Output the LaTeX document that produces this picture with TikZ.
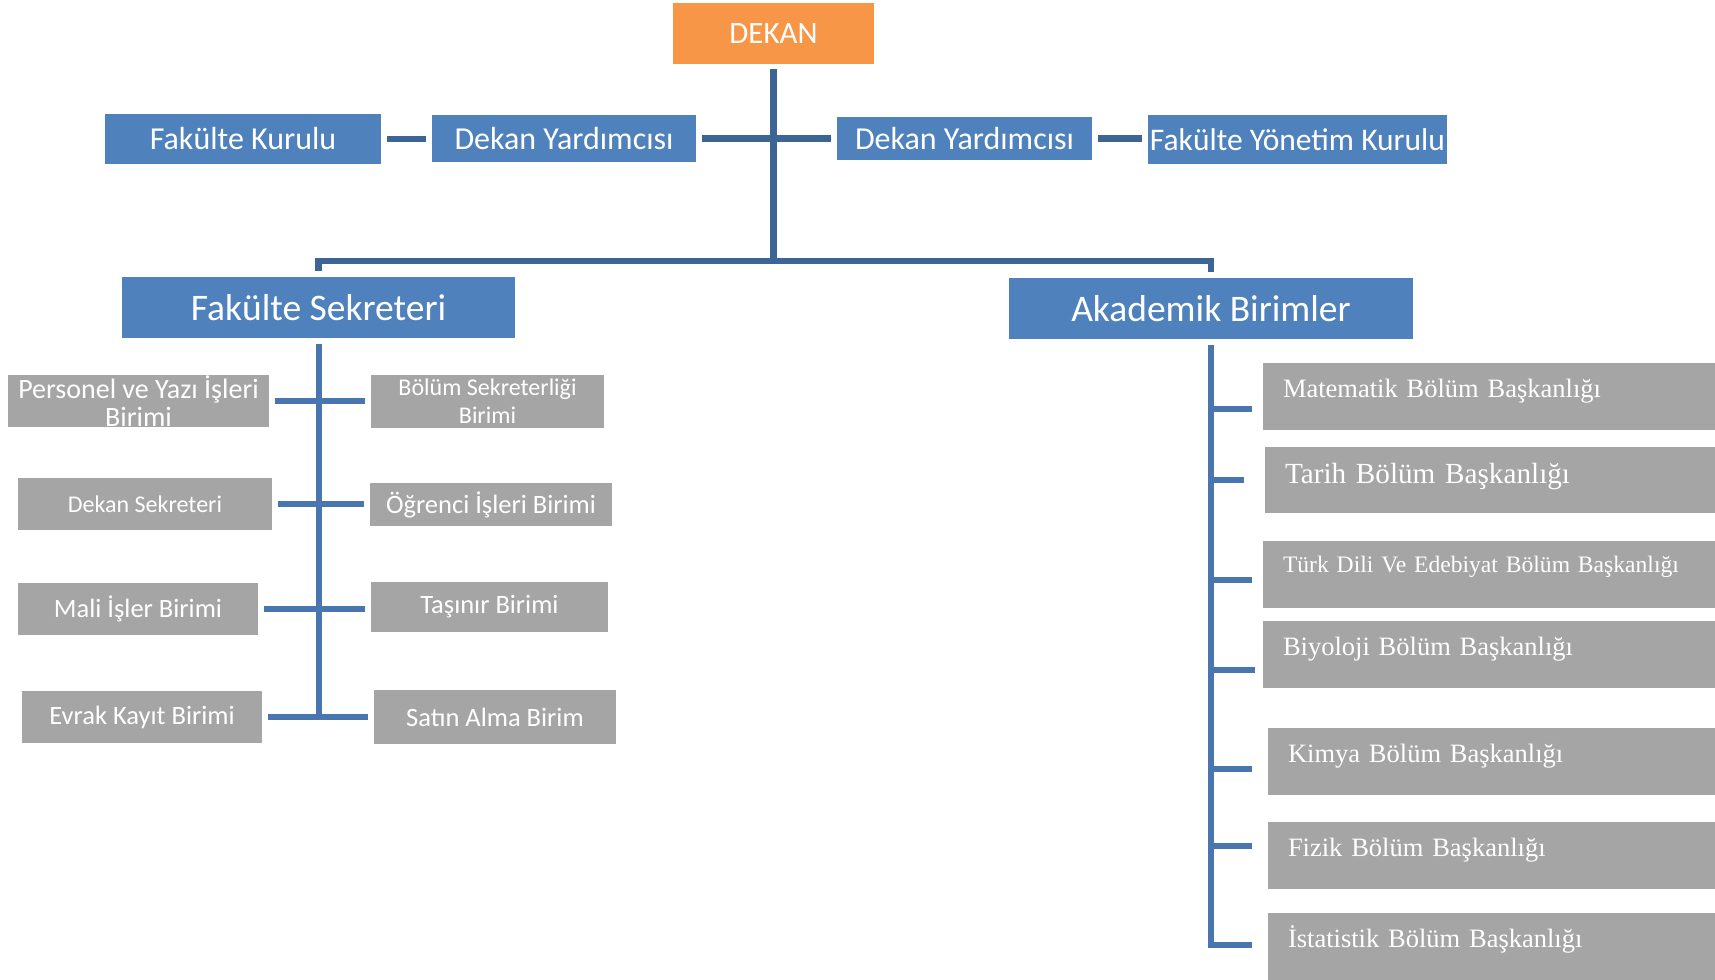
\documentclass[tikz,border=0pt]{standalone}
\usepackage{fontspec}
\usepackage{tikz}
\usetikzlibrary{positioning}

\newfontfamily\calibrifont{Carlito}
\newfontfamily\timesfont{Liberation Serif}

\definecolor{deanorange}{RGB}{247,150,70}
\definecolor{boxblue}{RGB}{79,129,189}
\definecolor{boxgray}{RGB}{165,165,165}
\definecolor{linedark}{RGB}{60,101,150}
\definecolor{linemid}{RGB}{74,118,175}

\begin{document}
\begin{tikzpicture}[x=0.5pt,y=-0.5pt]
  \tikzset{HeadStyle/.style = {
    shape         = rectangle,
    fill          = deanorange,
    text          = white,
    inner sep     = 0pt,
    outer sep     = 2.5pt,
    font          = \calibrifont\fontsize{15.5}{18}\selectfont
    }
  }
  \tikzset{BlueBoxStyle/.style = {
    shape         = rectangle,
    fill          = boxblue,
    text          = white,
    inner sep     = 0pt,
    outer sep     = 3pt,
    font          = \calibrifont\fontsize{16}{19}\selectfont
    }
  }
  \tikzset{GrayBoxStyle/.style = {
    shape         = rectangle,
    fill          = boxgray,
    text          = white,
    inner sep     = 0pt,
    outer sep     = 3pt,
    align         = center,
    font          = \calibrifont\fontsize{13.25}{14}\selectfont
    }
  }
  \tikzset{DeptBoxStyle/.style = {
    shape         = rectangle,
    anchor        = north west,
    fill          = boxgray,
    text          = white,
    inner xsep    = 10pt,
    inner ysep    = 0pt,
    outer sep     = 0pt,
    align         = left,
    text height   = 17.25pt,
    text depth    = 16.25pt,
    font          = \timesfont\fontsize{13.25}{16}\selectfont
    }
  }
  \tikzset{EdgeStyle/.style = {
    draw          = linemid,
    line width    = 3pt
    }
  }
  \tikzset{TopEdgeStyle/.style = {
    draw          = linedark,
    line width    = 3.25pt
    }
  }

  \useasboundingbox (0,0) rectangle (1715,980);

	\node[HeadStyle, minimum width=100.5pt, minimum height=30.5pt](A1) at (773.5, 33.5) {DEKAN};
	\node[BlueBoxStyle, minimum width=138pt, minimum height=25pt](B1) at (243, 139) {Fakülte Kurulu};
	\node[BlueBoxStyle, minimum width=132pt, minimum height=23.5pt](B2) at (564, 138.5) {Dekan Yardımcısı};
	\node[BlueBoxStyle, minimum width=127.5pt, minimum height=21.5pt](B3) at (964.5, 138.5) {Dekan Yardımcısı};
	\node[BlueBoxStyle, minimum width=149.5pt, minimum height=24.5pt, font=\calibrifont\fontsize{15.75}{18}\selectfont](B4) at (1297.5, 139.5) {Fakülte Yönetim Kurulu};
	\node[BlueBoxStyle, minimum width=196.5pt, minimum height=30.5pt, font=\calibrifont\fontsize{18.75}{22}\selectfont](C1) at (318.5, 307.5) {Fakülte Sekreteri};
	\node[BlueBoxStyle, minimum width=202pt, minimum height=30.5pt, font=\calibrifont\fontsize{18.75}{22}\selectfont](C2) at (1211, 308.5) {Akademik Birimler};

	\node[GrayBoxStyle, minimum width=130.5pt, minimum height=26pt, font=\calibrifont\fontsize{14}{14}\selectfont](D1) at (138.5, 401) {Personel ve Yazı İşleri\\Birimi};
	\node[GrayBoxStyle, minimum width=116.5pt, minimum height=26.5pt, font=\calibrifont\fontsize{12}{14}\selectfont](D2) at (487.5, 401.5) {Bölüm Sekreterliği\\Birimi};
	\node[GrayBoxStyle, minimum width=127pt, minimum height=26pt, font=\calibrifont\fontsize{12}{14}\selectfont](D3) at (145, 504) {Dekan Sekreteri};
	\node[GrayBoxStyle, minimum width=121pt, minimum height=21.5pt](D4) at (491, 504.5) {Öğrenci İşleri Birimi};
	\node[GrayBoxStyle, minimum width=120pt, minimum height=26pt](D5) at (138, 609) {Mali İşler Birimi};
	\node[GrayBoxStyle, minimum width=118.5pt, minimum height=25pt](D6) at (489.5, 607) {Taşınır Birimi};
	\node[GrayBoxStyle, minimum width=120pt, minimum height=26pt](D7) at (142, 717) {Evrak Kayıt Birimi};
	\node[GrayBoxStyle, minimum width=121pt, minimum height=27pt](D8) at (495, 717) {Satın Alma Birim};

	\node[DeptBoxStyle, text width=206pt](E1) at (1263, 363) {Matematik Bölüm Başkanlığı};
	\node[DeptBoxStyle, text width=205pt, text height=18.25pt, text depth=14.75pt, font=\timesfont\fontsize{14.6}{17}\selectfont](E2) at (1265, 447) {Tarih Bölüm Başkanlığı};
	\node[DeptBoxStyle, text width=206pt, text height=15.75pt, text depth=17.75pt, font=\timesfont\fontsize{11.8}{14}\selectfont](E3) at (1263, 541) {Türk Dili Ve Edebiyat Bölüm Başkanlığı};
	\node[DeptBoxStyle, text width=206pt](E4) at (1263, 621) {Biyoloji Bölüm Başkanlığı};
	\node[DeptBoxStyle, text width=203.5pt](E5) at (1268, 728) {Kimya Bölüm Başkanlığı};
	\node[DeptBoxStyle, text width=203.5pt](E6) at (1268, 822) {Fizik Bölüm Başkanlığı};
	\node[DeptBoxStyle, text width=203.5pt](E7) at (1268, 913) {İstatistik Bölüm Başkanlığı};

	\coordinate (bus) at (773.5, 261);
	\draw[TopEdgeStyle](A1.south) to (bus);
	\draw[TopEdgeStyle](C1.north) |- (bus) -| (C2.north);
	\draw[TopEdgeStyle](B1.east) to (B1.east -| B2.west);
	\draw[TopEdgeStyle](B2.east) to (B2.east -| B3.west);
	\draw[TopEdgeStyle](B3.east) to (B3.east -| B4.west);

	\draw[EdgeStyle](C1.south) to (C1.south |- D7.east);
	\draw[EdgeStyle](D1.east) to (D1.east -| D2.west);
	\draw[EdgeStyle](D3.east) to (D3.east -| D4.west);
	\draw[EdgeStyle](D5.east) to (D5.east -| D6.west);
	\draw[EdgeStyle](D7.east) to (D7.east -| D8.west);

	\coordinate (e1) at (1252, 409);
	\coordinate (e2) at (1244, 480);
	\coordinate (e3) at (1252, 580);
	\coordinate (e4) at (1255, 670);
	\coordinate (e5) at (1252, 769);
	\coordinate (e6) at (1252, 846);
	\coordinate (e7) at (1252, 945);
	\draw[EdgeStyle](C2.south) |- (e7);
	\draw[EdgeStyle](e1) to (e1 -| C2.south);
	\draw[EdgeStyle](e2) to (e2 -| C2.south);
	\draw[EdgeStyle](e3) to (e3 -| C2.south);
	\draw[EdgeStyle](e4) to (e4 -| C2.south);
	\draw[EdgeStyle](e5) to (e5 -| C2.south);
	\draw[EdgeStyle](e6) to (e6 -| C2.south);
  \end{tikzpicture}
\end{document}
